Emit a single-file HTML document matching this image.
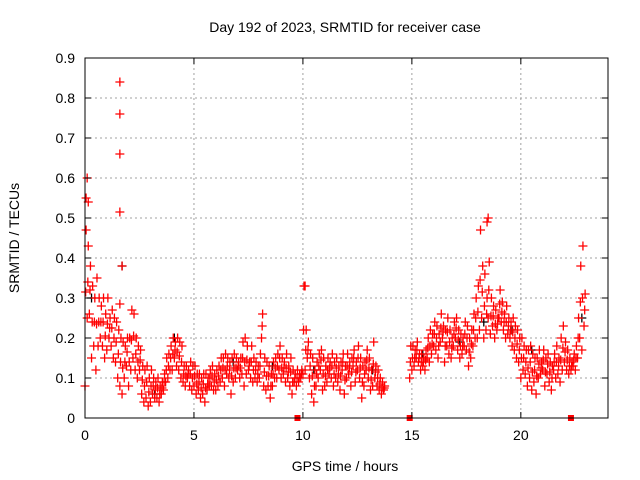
<!DOCTYPE html>
<html><head><meta charset="utf-8"><style>
body{margin:0;background:#fff}
svg{display:block;font-family:"Liberation Sans",sans-serif}
</style></head><body>
<svg id="chart" width="640" height="480">
<rect width="640" height="480" fill="#fff"/>
<g id="grid"></g><g id="marks"></g><g id="axes"></g>
</svg>
<script>
const seg1Start = 0.0;
const seg1Lo = [0.08,0.25,0.26,0.15,0.18,0.12,0.18,0.2,0.18,0.15,
0.17,0.2,0.18,0.15,0.14,0.1,0.08,0.06,0.1,0.13,
0.08,0.12,0.15,0.12,0.1,0.12,0.06,0.04,0.05,0.03,
0.04,0.06,0.05,0.05,0.04,0.06,0.07,0.09,0.1,0.12,
0.12,0.15,0.13,0.12,0.1,0.09,0.08,0.1,0.08,0.07,
0.08,0.06,0.07,0.05,0.06,0.04,0.07,0.08,0.08,0.07,
0.07,0.08,0.09,0.1,0.08,0.11,0.1,0.06,0.09,0.1,
0.12,0.1,0.11,0.08,0.11,0.12,0.1,0.09,0.1,0.09,
0.1,0.2,0.08,0.07,0.08,0.05,0.08,0.1,0.1,0.12,
0.1,0.11,0.09,0.1,0.08,0.06,0.09,0.08,0.09,0.1,
0.11,0.12,0.15,0.1,0.06,0.04,0.08,0.1,0.12,0.07,
0.08,0.09,0.11,0.1,0.08,0.1,0.09,0.07,0.12,0.06,
0.1,0.11,0.08,0.13,0.09,0.12,0.1,0.05,0.08,0.12,
0.1,0.07,0.08,0.1,0.08,0.07,0.06,0.07];
const seg1Hi = [0.55,0.43,0.38,0.33,0.3,0.35,0.3,0.28,0.3,0.26,
0.3,0.25,0.27,0.25,0.24,0.22,0.2,0.19,0.18,0.2,
0.2,0.27,0.26,0.2,0.18,0.17,0.13,0.12,0.13,0.1,
0.12,0.1,0.09,0.1,0.08,0.09,0.11,0.15,0.16,0.18,
0.2,0.19,0.2,0.19,0.18,0.13,0.13,0.12,0.14,0.13,
0.13,0.11,0.11,0.1,0.11,0.11,0.1,0.12,0.13,0.11,
0.12,0.13,0.15,0.15,0.16,0.15,0.14,0.15,0.16,0.15,
0.14,0.15,0.19,0.2,0.18,0.14,0.18,0.15,0.14,0.13,
0.16,0.26,0.15,0.14,0.13,0.11,0.14,0.15,0.16,0.18,
0.15,0.14,0.16,0.13,0.15,0.12,0.11,0.12,0.11,0.12,
0.33,0.22,0.19,0.16,0.15,0.12,0.14,0.16,0.17,0.15,
0.13,0.15,0.14,0.16,0.14,0.15,0.13,0.14,0.16,0.13,
0.16,0.14,0.15,0.17,0.14,0.18,0.15,0.13,0.14,0.17,
0.15,0.12,0.19,0.13,0.12,0.1,0.09,0.08];
const seg2Start = 14.9;
const seg2Lo = [0.1,
0.12,0.13,0.15,0.14,0.12,0.13,0.12,0.15,0.14,0.16,
0.18,0.17,0.15,0.19,0.2,0.14,0.18,0.16,0.15,0.18,
0.2,0.17,0.15,0.16,0.18,0.17,0.13,0.15,0.18,0.2,
0.2,0.22,0.25,0.2,0.22,0.25,0.21,0.23,0.2,0.22,
0.25,0.24,0.22,0.2,0.21,0.2,0.18,0.17,0.15,0.14,
0.1,0.12,0.11,0.08,0.1,0.07,0.09,0.06,0.1,0.11,
0.12,0.08,0.11,0.09,0.07,0.12,0.1,0.11,0.09,0.12,
0.14,0.12,0.11,0.12,0.13,0.12,0.15,0.2,0.17,0.23];
const seg2Hi = [0.18,
0.18,0.17,0.19,0.16,0.16,0.15,0.17,0.2,0.22,0.21,
0.24,0.23,0.21,0.26,0.23,0.22,0.25,0.22,0.2,0.24,
0.25,0.22,0.21,0.2,0.24,0.23,0.2,0.22,0.26,0.3,
0.33,0.47,0.38,0.36,0.3,0.39,0.3,0.28,0.27,0.25,
0.32,0.29,0.26,0.28,0.25,0.24,0.25,0.23,0.22,0.2,
0.2,0.18,0.17,0.17,0.18,0.16,0.15,0.15,0.17,0.14,
0.17,0.15,0.16,0.14,0.13,0.16,0.18,0.15,0.2,0.23,
0.19,0.17,0.15,0.14,0.16,0.18,0.25,0.38,0.43,0.31];
const outlierX = [1.6,1.6,1.6,1.6,1.7,0.1,0.15,18.5,18.45,10.1,0.05,1.6];
const outlierY = [0.84,0.76,0.66,0.515,0.38,0.6,0.54,0.5,0.49,0.33,0.47,0.285];
const blackX = [1.7,3.2,4.1,8.6,10.5,13.2,15.5,17.2,18.3,19.6,20.5,22.8,0.3,6.8];
const blackY = [0.38,0.06,0.2,0.13,0.12,0.12,0.16,0.19,0.24,0.22,0.17,0.25,0.3,0.14];
const zeroX = [9.75,14.9,22.3];
const xTicks = [0,5,10,15,20];
const yTicks = [0,0.1,0.2,0.3,0.4,0.5,0.6,0.7,0.8,0.9];
const yLabels = ["0","0.1","0.2","0.3","0.4","0.5","0.6","0.7","0.8","0.9"];

const L=85,R=608,T=58,B=418;
const sx=v=>L+(v/24)*(R-L);
const sy=v=>B-(v/0.9)*(B-T);
const NS="http://www.w3.org/2000/svg";
function mk(tag,attrs,parent){const e=document.createElementNS(NS,tag);for(const k in attrs)e.setAttribute(k,attrs[k]);parent.appendChild(e);return e;}
const grid=document.getElementById('grid'),marks=document.getElementById('marks'),axes=document.getElementById('axes');

yTicks.forEach((t,i)=>{
  if(t>0){const g=mk('line',{x1:L,x2:R,y1:sy(t),y2:sy(t),stroke:'#a0a0a0','stroke-dasharray':'2,3'},grid);
  
  }
  const tk=mk('path',{d:`M${L},${sy(t)}h6M${R},${sy(t)}h-6`,stroke:'#000'},axes);
  
  
  const tx=mk('text',{x:L-10,y:sy(t)+5,'text-anchor':'end','font-size':14},axes);
  tx.textContent=yLabels[i];
  
  
});
xTicks.forEach(t=>{
  if(t>0){const g=mk('line',{x1:sx(t),x2:sx(t),y1:T,y2:B,stroke:'#a0a0a0','stroke-dasharray':'2,3'},grid);
  
  }
  const tk=mk('path',{d:`M${sx(t)},${B}v-6M${sx(t)},${T}v6`,stroke:'#000'},axes);
  
  
  const tx=mk('text',{x:sx(t),y:B+22,'text-anchor':'middle','font-size':14},axes);
  tx.textContent=String(t);
  
  
});
const frame=mk('rect',{x:L,y:T,width:R-L,height:B-T,fill:'none',stroke:'#000'},axes);



function plus(x,y,col){
  const p=mk('path',{d:`M${sx(x)-4.5},${sy(y)}h9M${sx(x)},${sy(y)-4.5}v9`,stroke:col,'stroke-width':1.3},marks);
  
  
}
blackX.forEach((x,i)=>plus(x,blackY[i],'#000'));
function seg(start,lo,hi){
  lo.forEach((v,i)=>{const t=start+i*0.1;plus(t,v,'#f00');plus(t+0.05,hi[i],'#f00');plus(t+0.03,(v+hi[i])/2,'#f00');});
}
seg(seg1Start,seg1Lo,seg1Hi);
seg(seg2Start,seg2Lo,seg2Hi);
outlierX.forEach((x,i)=>plus(x,outlierY[i],'#f00'));
zeroX.forEach(x=>{const r=mk('rect',{x:sx(x)-3,y:B-3,width:6,height:6,fill:'#f00'},marks);
  
  });

const title=mk('text',{x:345,y:32,'text-anchor':'middle','font-size':14},axes);
title.textContent='Day 192 of 2023, SRMTID for receiver case';


const xl=mk('text',{x:345,y:471,'text-anchor':'middle','font-size':14},axes);
xl.textContent='GPS time / hours';


const yl=mk('text',{x:19,y:238,'text-anchor':'middle','font-size':14,transform:'rotate(-90 19 238)'},axes);
yl.textContent='SRMTID / TECUs';


</script>
</body></html>
